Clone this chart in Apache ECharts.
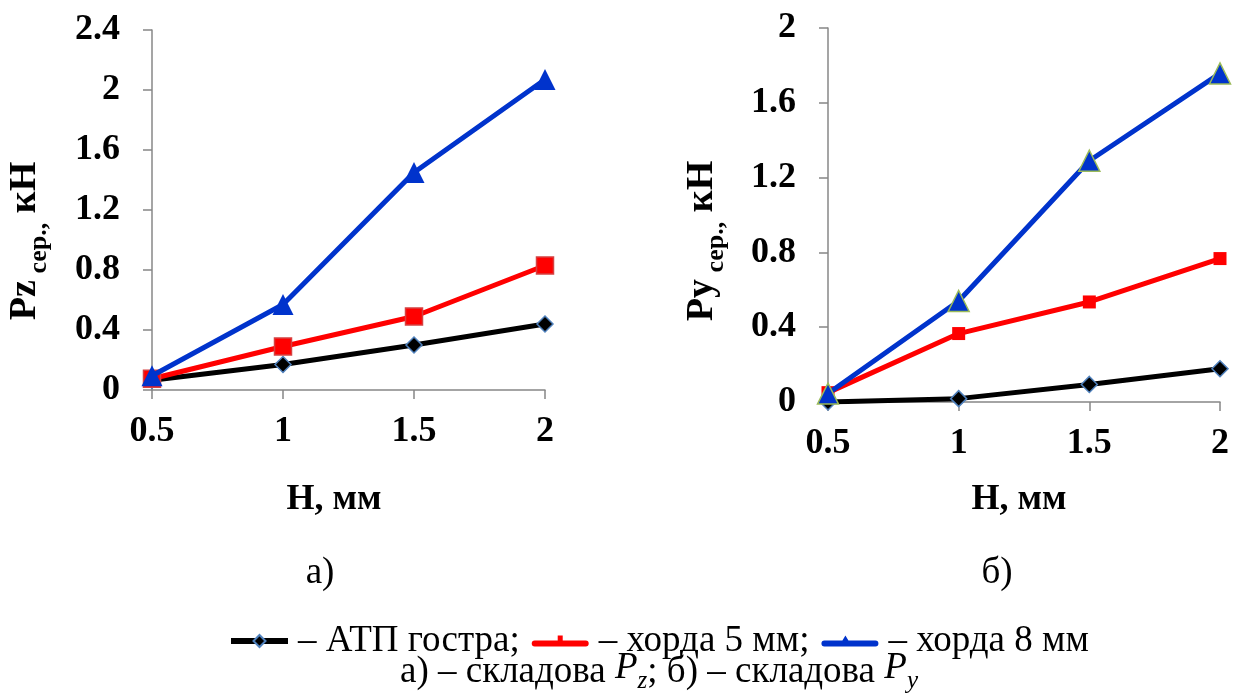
<!DOCTYPE html>
<html>
<head>
<meta charset="utf-8">
<script src="https://cdn.jsdelivr.net/npm/echarts@6/dist/echarts.min.js"></script>
<style>
  html, body { margin: 0; padding: 0; background: #fff; }
  #main { width: 1240px; height: 698px; }
</style>
</head>
<body>
<div id="main"></div>
<script>
// H, mm
var depths = [0.5, 1, 1.5, 2];
var xTicks = ['0.5', '1', '1.5', '2'];

// а) складова Pz, кН
var pzSharp = [0.065, 0.17, 0.30, 0.44];
var pzChord5 = [0.075, 0.29, 0.49, 0.83];
var pzChord8 = [0.095, 0.57, 1.45, 2.07];

// б) складова Py, кН
var pySharp = [0.0, 0.018, 0.094, 0.178];
var pyChord5 = [0.05, 0.366, 0.535, 0.767];
var pyChord8 = [0.045, 0.54, 1.29, 1.757];

var seriesNames = ['АТП гостра;', 'хорда 5 мм;', 'хорда 8 мм'];

var FONT = 'Liberation Serif';
var AXIS_GREY = '#878787';

function pairs(ys) {
  return depths.map(function (x, i) { return [x, ys[i]]; });
}

var chart = echarts.init(document.getElementById('main'));

function xAxisCfg(idx, gap, pad) {
  return {
    type: 'value', gridIndex: idx, min: 0.5, max: 2, interval: 0.5,
    name: 'Н, мм', nameLocation: 'middle', nameGap: gap,
    nameTextStyle: { fontFamily: FONT, fontSize: 36, fontWeight: 'bold', color: '#000', padding: pad },
    axisLine: { lineStyle: { color: AXIS_GREY, width: 1.5 } },
    axisTick: { show: true, length: 9, lineStyle: { color: AXIS_GREY, width: 1.5 } },
    axisLabel: {
      fontFamily: FONT, fontSize: 36, fontWeight: 'bold', color: '#000', margin: 24,
      formatter: function (v) { return xTicks[depths.indexOf(v)] || v; }
    },
    splitLine: { show: false }
  };
}

function yAxisCfg(idx, max, interval, letter, gap, shift) {
  return {
    type: 'value', gridIndex: idx, min: 0, max: max, interval: interval,
    name: '{a|P' + letter + '}{c| сер.,}{a| кН}',
    nameLocation: 'middle', nameRotate: 90, nameGap: gap,
    nameTextStyle: {
      padding: [0, shift, 0, 0],
      rich: {
        a: { fontFamily: FONT, fontSize: 38, fontWeight: 'bold', color: '#000', lineHeight: 46, verticalAlign: 'top' },
        c: { fontFamily: FONT, fontSize: 26, fontWeight: 'bold', color: '#000', lineHeight: 46, verticalAlign: 'bottom' }
      }
    },
    axisLine: { show: true, lineStyle: { color: AXIS_GREY, width: 1.5 } },
    axisTick: { show: true, length: 9, lineStyle: { color: AXIS_GREY, width: 1.5 } },
    axisLabel: {
      fontFamily: FONT, fontSize: 36, fontWeight: 'bold', color: '#000', margin: 32,
      formatter: function (v) { return String(Math.round(v * 10) / 10); }
    },
    splitLine: { show: false }
  };
}

function diamond(x, y, data) {
  return {
    name: seriesNames[0], type: 'line', xAxisIndex: x, yAxisIndex: y, data: data,
    lineStyle: { color: '#000', width: 5 }, itemStyle: { color: '#000', borderColor: '#4f81bd', borderWidth: 1.5 },
    symbol: 'diamond', symbolSize: 16, z: 3
  };
}

// legend icons: thick line with a small stub / tiny triangle like the source
var iconStub = 'path://M3,5 L54,5 Q57,5 57,8 Q57,11 54,11 L3,11 Q0,11 0,8 Q0,5 3,5 Z M26,0 L31,0 L31,5 L26,5 Z';
var iconTri = 'path://M3,5 L54,5 Q57,5 57,8 Q57,11 54,11 L3,11 Q0,11 0,8 Q0,5 3,5 Z M21,5 L24,0 L27,5 Z';

var option = {
  backgroundColor: '#fff',
  animation: false,
  grid: [
    { left: 152, top: 30, width: 393, height: 360 },
    { left: 828, top: 28, width: 392, height: 374 }
  ],
  xAxis: [xAxisCfg(0, 92, [0, 29, 0, 0]), xAxisCfg(1, 80, [0, 10, 0, 0])],
  yAxis: [yAxisCfg(0, 2.4, 0.4, 'z', 100, 62), yAxisCfg(1, 2, 0.4, 'y', 99, 52)],
  legend: {
    data: [
      { name: seriesNames[0] },
      { name: seriesNames[1], icon: iconStub, itemStyle: { borderWidth: 0 } },
      { name: seriesNames[2], icon: iconTri, itemStyle: { borderWidth: 0 } }
    ],
    left: 223, top: 616,
    itemWidth: 57, itemHeight: 15, itemGap: 12,
    lineStyle: { width: 6 },
    formatter: function (name) { return '– ' + name; },
    textStyle: { fontFamily: FONT, fontSize: 37, lineHeight: 40, color: '#000', padding: [0, 0, 0, 5] }
  },
  graphic: [
    { type: 'text', x: 320, y: 573, style: { text: 'а)', font: '37px ' + FONT, fill: '#000', align: 'center', verticalAlign: 'middle' } },
    { type: 'text', x: 997, y: 573, style: { text: 'б)', font: '37px ' + FONT, fill: '#000', align: 'center', verticalAlign: 'middle' } },
    {
      type: 'text', left: 400, top: 650,
      style: {
        text: 'а) – складова {i|P}{s|z}; б) – складова {i|P}{s|y}',
        font: '37px ' + FONT, fill: '#000',
        rich: {
          i: { fontFamily: FONT, fontSize: 37, fontStyle: 'italic', lineHeight: 44, verticalAlign: 'top' },
          s: { fontFamily: FONT, fontSize: 25, fontStyle: 'italic', lineHeight: 44, verticalAlign: 'bottom' }
        }
      }
    }
  ],
  series: [
    diamond(0, 0, pairs(pzSharp)),
    {
      name: seriesNames[1], type: 'line', xAxisIndex: 0, yAxisIndex: 0, data: pairs(pzChord5),
      lineStyle: { color: '#ff0000', width: 5 }, itemStyle: { color: '#ff0000', borderColor: '#d64040', borderWidth: 1.5 },
      symbol: 'rect', symbolSize: 17, z: 4
    },
    {
      name: seriesNames[2], type: 'line', xAxisIndex: 0, yAxisIndex: 0, data: pairs(pzChord8),
      lineStyle: { color: '#0033cc', width: 5 }, itemStyle: { color: '#0033cc' },
      symbol: 'triangle', symbolSize: 21, z: 5
    },
    diamond(1, 1, pairs(pySharp)),
    {
      name: seriesNames[1], type: 'line', xAxisIndex: 1, yAxisIndex: 1, data: pairs(pyChord5),
      lineStyle: { color: '#ff0000', width: 5 }, itemStyle: { color: '#ff0000' },
      symbol: 'rect', symbolSize: 13, z: 4
    },
    {
      name: seriesNames[2], type: 'line', xAxisIndex: 1, yAxisIndex: 1, data: pairs(pyChord8),
      lineStyle: { color: '#0033cc', width: 5 }, itemStyle: { color: '#0033cc', borderColor: '#9bbb59', borderWidth: 1.5 },
      symbol: 'triangle', symbolSize: 21, z: 5
    }
  ]
};

chart.setOption(option);
</script>
</body>
</html>
